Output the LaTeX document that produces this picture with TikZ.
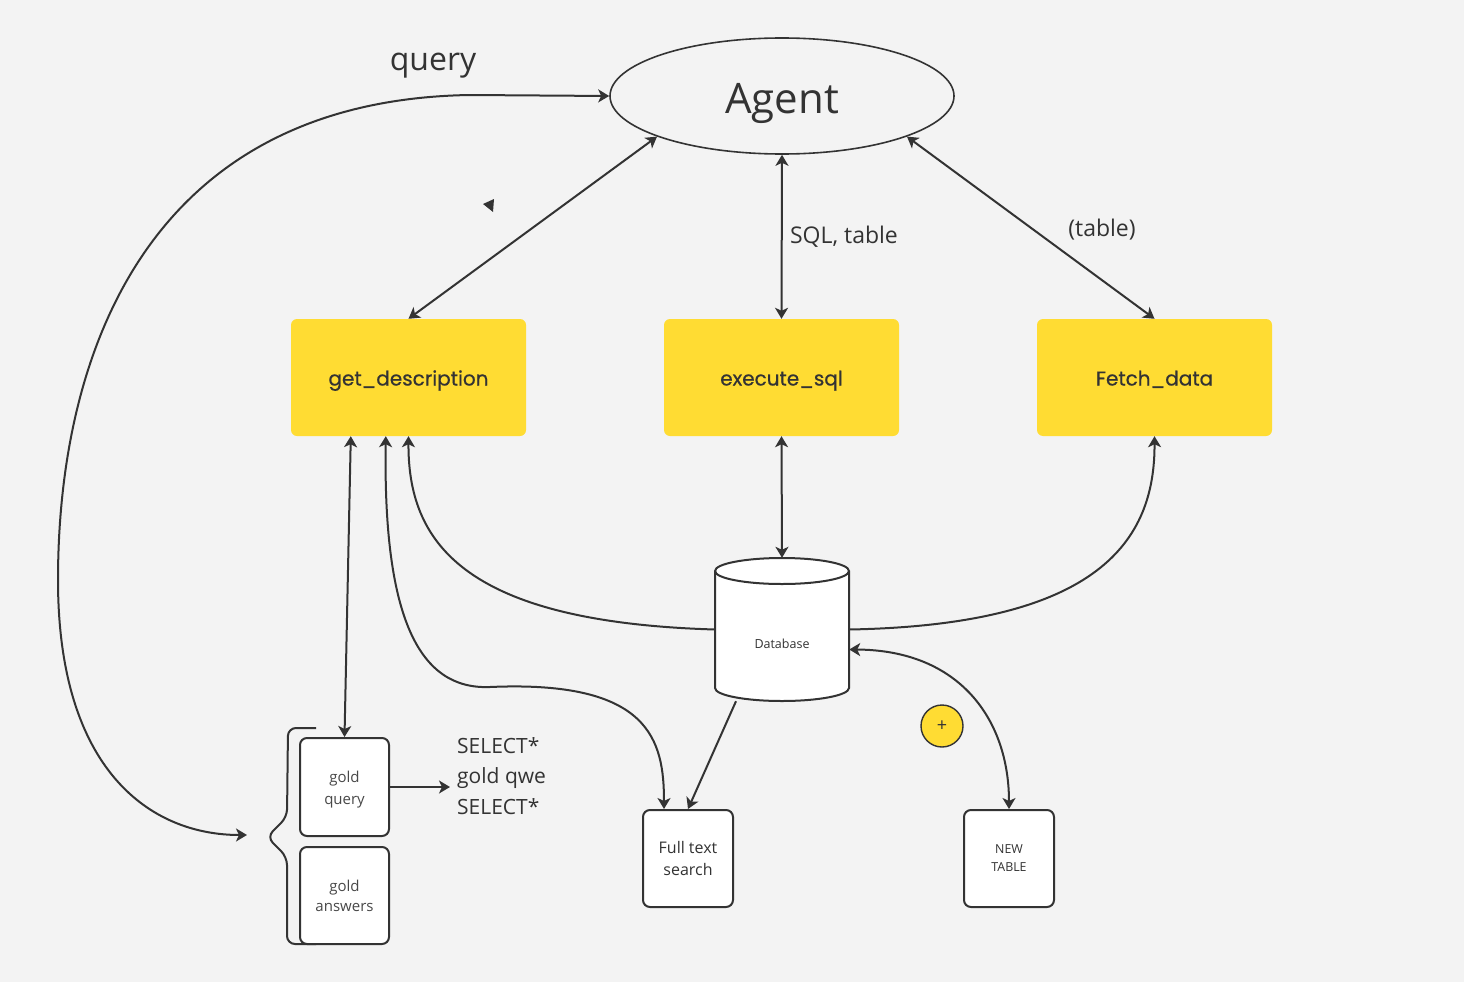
\documentclass[tikz,border=0pt]{standalone}
\usepackage{fontspec}
\setmainfont{Open Sans}
\newfontfamily\toolfont{Poppins}[FakeBold=0.6]
\usetikzlibrary{arrows.meta,positioning,shapes.geometric}
\definecolor{PaperBg}{HTML}{F3F3F3}
\definecolor{InkDark}{HTML}{333333}
\definecolor{ToolYellow}{HTML}{FFDC33}
\definecolor{NoteGrey}{HTML}{484848}

\begin{document}
\begin{tikzpicture}[x=1pt, y=-1pt,
  >={Stealth[length=11pt,width=13pt,inset=3pt]},
  link/.style={draw=InkDark, line width=2pt},
  toolbox/.style={rectangle, rounded corners=6pt, fill=ToolYellow, minimum width=235pt,
    minimum height=117pt, inner sep=0pt, text height=20pt, text depth=4pt, text=InkDark,
    font=\toolfont\fontsize{20}{24}\selectfont},
  notebox/.style={rectangle, rounded corners=7pt, draw=InkDark, line width=2pt, fill=white,
    minimum width=90pt, minimum height=97pt, inner sep=0pt, align=center, text=InkDark}]
  % Canvas
  \fill[PaperBg] (0,0) rectangle (1464,982);
  \useasboundingbox (0,0) rectangle (1464,982);

  % Agent
  \node[ellipse, draw=InkDark, line width=1.6pt, minimum width=344pt, minimum height=116pt, inner sep=0pt,
    text height=44pt, text depth=10pt, font=\fontsize{42}{50}\selectfont, text=InkDark] (agent) at (782,96) {Agent};
  \node[font=\fontsize{32}{38}\selectfont, text=InkDark] (querylbl) at (433,66) {query};

  % Tools
  \node[toolbox] (getdesc) at (408.5,377.5) {get\_description};
  \node[toolbox] (execsql) at (781.5,377.5) {execute\_sql};
  \node[toolbox] (fetchdata) at (1154.5,377.5) {Fetch\_data};

  % Agent <-> tools
  \draw[link, <->] (agent.198.6) -- (getdesc.north);
  \draw[link, <->] (agent.south) -- (execsql.north)
    node[pos=0.5, right=4pt, font=\fontsize{23}{28}\selectfont, text=InkDark] (sqllbl) {SQL, table};
  \draw[link, <->] (agent.-18) -- (fetchdata.north);
  \node[font=\fontsize{23}{28}\selectfont, text=InkDark] (tablelbl) at (1102,230) {(table)};

  % Database cylinder
  \node[rectangle, minimum width=134pt, minimum height=143pt, inner sep=0pt] (db) at (782,629.5) {};
  \draw[InkDark, line width=2pt, fill=white] (715,571) -- (715,688) arc(180:360:67pt and 13pt)
    -- (849,571) arc(0:180:67pt and 13pt) -- cycle;
  \draw[InkDark, line width=2pt] (715,571) arc(180:360:67pt and 13pt);
  \node[font=\fontsize{12.5}{15}\selectfont, text=InkDark] (dblbl) at (782,644) {Database};

  \draw[link, <->] (execsql.south) -- (db.north);
  \draw[link, ->] (db.west) .. controls (460,622) and (408,540) .. (getdesc.south);
  \draw[link, ->] (db.east) .. controls (1100,625) and (1155,540) .. (fetchdata.south);

  % Gold examples
  \node[notebox, minimum width=89pt, minimum height=98pt, font=\fontsize{15}{22}\selectfont, text=NoteGrey]
    (goldq) at (344.5,787) {\rule{0pt}{17pt}gold\\query};
  \node[notebox, minimum width=89pt, minimum height=97pt, font=\fontsize{15}{20}\selectfont, text=NoteGrey]
    (golda) at (344.5,895.5) {gold\\answers};
  \draw[InkDark, line width=2pt, rounded corners=8pt]
    (316,728) -- (288,728) -- (287,817) -- (267,837) -- (287,857) -- (287,944) -- (316,944);
  \node[anchor=west, inner xsep=7pt, inner ysep=0pt, align=left, text=InkDark,
    font=\fontsize{21}{30.5}\selectfont] (sel) at (450,776) {SELECT*\\gold qwe\\SELECT*};
  \draw[link, ->] (goldq.east) -- (goldq.east -| sel.west);
  \draw[link, <->] ([xshift=60pt]getdesc.south west) -- (goldq.north);

  % query input
  \coordinate (qin) at (247,835);
  \draw[link, <->] (agent.west) -- (470,95) .. controls (150,100) and (58,350) .. (58,580)
    .. controls (58,770) and (150,835) .. (qin);

  % Search and new table
  \node[notebox, font=\fontsize{16}{22}\selectfont] (fts) at (688,858.5) {Full text\\search};
  \node[notebox, font=\fontsize{12.4}{18}\selectfont] (newtab) at (1009,858.5) {NEW\\TABLE};
  \draw[link, <->] ([xshift=95pt]getdesc.south west) .. controls (383,620) and (420,690) .. (490,687)
    .. controls (650,680) and (664,740) .. ([xshift=-24pt]fts.north);
  \draw[link, ->] ([xshift=-46pt]db.south) -- (fts.north);
  \draw[link, <->] ([yshift=-20pt]db.east) .. controls (960,650) and (1009,720) .. (newtab.north);

  % Plus marker
  \node[circle, draw=InkDark, line width=1.4pt, fill=ToolYellow, minimum size=42pt, inner sep=0pt,
    font=\fontsize{18}{20}\selectfont, text=InkDark] (plus) at (942,726) {+};

  % Pointer
  \fill[InkDark] (483,204) -- (494,199) -- (493,212) -- cycle;
\end{tikzpicture}
\end{document}
